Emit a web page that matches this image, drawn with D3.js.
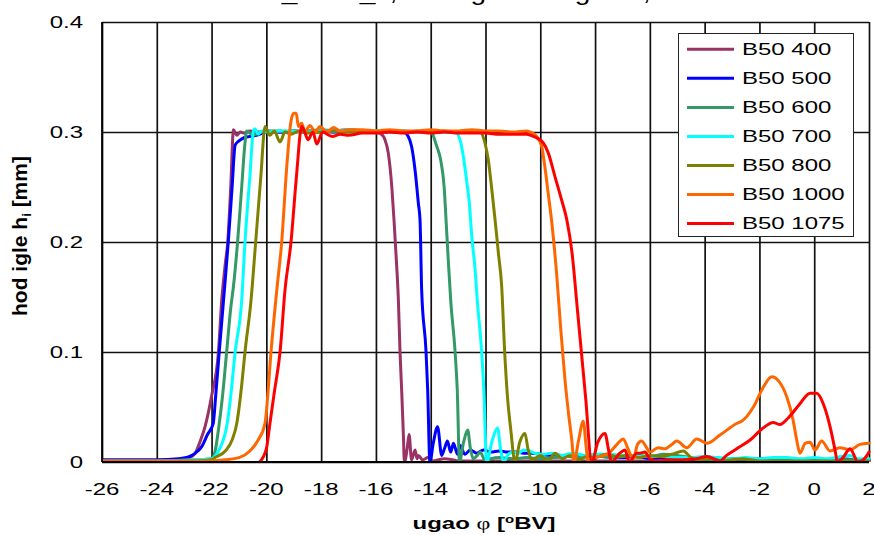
<!DOCTYPE html>
<html><head><meta charset="utf-8">
<script src="https://cdn.jsdelivr.net/npm/d3@7"></script>
<style>
body{margin:0;background:#fff;}
text{font-family:"Liberation Sans",Arial,sans-serif;fill:#000;}
</style>
</head><body>
<svg id="c" width="874" height="535"></svg>
<script>
// ---------- data ----------
const seriesNames = ["B50 400","B50 500","B50 600","B50 700","B50 800","B50 1000","B50 1075"];
const seriesColors = ["#993366","#0000FF","#339966","#00FFFF","#808000","#FF6600","#FF0000"];
const xTicks = [-26,-24,-22,-20,-18,-16,-14,-12,-10,-8,-6,-4,-2,0,2];
const xTickLabels = ["-26","-24","-22","-20","-18","-16","-14","-12","-10","-8","-6","-4","-2","0","2"];
const yTicks = [0,0.1,0.2,0.3,0.4];
const yTickLabels = ["0","0.1","0.2","0.3","0.4"];
const titleText = "B50_1075_x, Hod igle vs. ugao T, sve brzine";

const s400 = [[-26,0.001],[-25,0.001],[-24,0.001],[-23.2,0.002],[-22.8,0.004],[-22.6,0.008],[-22.4,0.02],[-22.24,0.032],[-22.0,0.06],[-21.75,0.1],[-21.63,0.147],[-21.5,0.18],[-21.41,0.2],[-21.3,0.25],[-21.2,0.302],[-21.08,0.297],[-20.95,0.300],[-20.8,0.299],[-20.6,0.301],[-20.3,0.300],[-20,0.301],[-19.5,0.300],[-19,0.301],[-18.5,0.300],[-18,0.301],[-17.5,0.301],[-17,0.302],[-16.5,0.301],[-16,0.300],[-15.85,0.299],[-15.67,0.293],[-15.55,0.281],[-15.42,0.25],[-15.34,0.22],[-15.27,0.19],[-15.18,0.147],[-15.12,0.1],[-15.06,0.065],[-15.0,0.026],[-14.96,0.0],[-14.86,0.012],[-14.79,0.025],[-14.7,0.002],[-14.57,0.011],[-14.5,0.003],[-14.45,0.006],[-14.3,0.002],[-14.1,0.004],[-13.9,0.001],[-13.5,0.003],[-13.2,0.002],[-13,0.001],[-12,0.001],[-10,0.001],[-8,0.001],[-6,0.001],[-4,0.001],[-2,0.001],[0,0.001],[2,0.001]];

const s500 = [[-26,0.002],[-24,0.002],[-23.2,0.003],[-22.8,0.005],[-22.5,0.01],[-22.36,0.014],[-22.15,0.025],[-21.94,0.035],[-21.85,0.06],[-21.72,0.1],[-21.54,0.154],[-21.39,0.2],[-21.25,0.25],[-21.14,0.288],[-21.0,0.292],[-20.8,0.295],[-20.6,0.296],[-20.36,0.297],[-20.0,0.300],[-19.5,0.300],[-19,0.301],[-18.5,0.300],[-18,0.301],[-17.5,0.300],[-17,0.301],[-16.5,0.300],[-16,0.300],[-15.5,0.300],[-15.0,0.300],[-14.82,0.296],[-14.7,0.287],[-14.57,0.265],[-14.45,0.235],[-14.39,0.22],[-14.33,0.156],[-14.17,0.1],[-14.11,0.065],[-14.03,0.0],[-13.9,0.018],[-13.75,0.032],[-13.6,0.006],[-13.5,0.012],[-13.39,0.019],[-13.27,0.009],[-13.17,0.017],[-13.02,0.007],[-12.93,0.015],[-12.75,0.007],[-12.56,0.011],[-12.32,0.008],[-12.07,0.011],[-11.8,0.009],[-11.5,0.010],[-11.2,0.009],[-10.9,0.009],[-10.6,0.008],[-10.3,0.008],[-10,0.007],[-9.6,0.006],[-9.2,0.006],[-8.8,0.005],[-8.4,0.006],[-8,0.005],[-7.5,0.005],[-7,0.004],[-6.5,0.005],[-6,0.003],[-5.5,0.004],[-5,0.003],[-4.5,0.002],[-4,0.003],[-3.5,0.001],[-3,0.003],[-2.5,0.002],[-2,0.003],[-1.5,0.002],[-1,0.003],[-0.5,0.002],[0,0.002],[0.5,0.002],[1,0.003],[1.5,0.002],[2,0.002]];

const s600 = [[-26,0.001],[-24,0.001],[-22.5,0.002],[-22.0,0.003],[-21.87,0.01],[-21.72,0.035],[-21.6,0.06],[-21.45,0.1],[-21.3,0.14],[-21.2,0.16],[-21.05,0.2],[-20.9,0.25],[-20.78,0.29],[-20.72,0.301],[-20.6,0.299],[-20.5,0.297],[-20.3,0.299],[-20,0.301],[-19.5,0.301],[-19,0.300],[-18.5,0.301],[-18,0.302],[-17.5,0.301],[-17,0.302],[-16.5,0.301],[-16,0.301],[-15.5,0.300],[-15,0.301],[-14.5,0.300],[-14.0,0.300],[-13.78,0.287],[-13.64,0.275],[-13.51,0.25],[-13.44,0.22],[-13.36,0.184],[-13.27,0.147],[-13.11,0.1],[-13.03,0.065],[-12.95,0.0],[-12.8,0.018],[-12.65,0.029],[-12.55,0.012],[-12.45,0.003],[-12.3,0.006],[-12.2,0.009],[-12.0,0.001],[-11.8,0.003],[-11.5,0.004],[-11,0.003],[-10.5,0.004],[-10,0.003],[-9.5,0.004],[-9,0.005],[-8.5,0.004],[-8,0.006],[-7.5,0.004],[-7,0.005],[-6.5,0.006],[-6,0.005],[-5.5,0.007],[-5,0.006],[-4.5,0.004],[-4,0.003],[-3.5,0.002],[-3,0.003],[-2,0.002],[-1,0.002],[0,0.002],[1,0.002],[2,0.002]];

const s700 = [[-26,0.001],[-24,0.001],[-22.5,0.002],[-22.0,0.003],[-21.75,0.01],[-21.43,0.035],[-21.3,0.06],[-21.14,0.1],[-20.9,0.147],[-20.78,0.2],[-20.6,0.26],[-20.48,0.3],[-20.42,0.303],[-20.3,0.298],[-20.18,0.301],[-20,0.300],[-19.5,0.301],[-19,0.301],[-18.5,0.300],[-18,0.301],[-17.5,0.301],[-17,0.302],[-16.5,0.301],[-16,0.301],[-15.5,0.300],[-15,0.301],[-14.5,0.300],[-14,0.301],[-13.5,0.300],[-13.11,0.300],[-12.93,0.293],[-12.81,0.278],[-12.69,0.256],[-12.59,0.235],[-12.5,0.205],[-12.38,0.175],[-12.3,0.147],[-12.14,0.1],[-12.06,0.065],[-11.96,0.0],[-11.75,0.02],[-11.56,0.031],[-11.45,0.012],[-11.33,0.0],[-11.2,0.006],[-11,0.009],[-10.8,0.008],[-10.6,0.011],[-10.4,0.010],[-10.2,0.008],[-9.9,0.007],[-9.6,0.008],[-9.2,0.006],[-8.8,0.008],[-8.4,0.006],[-8,0.007],[-7.5,0.007],[-7,0.006],[-6.5,0.006],[-6,0.005],[-5.5,0.005],[-5,0.004],[-4.5,0.004],[-4,0.005],[-3.5,0.004],[-3,0.003],[-2.5,0.004],[-2,0.003],[-1.5,0.004],[-1,0.004],[-0.5,0.003],[0,0.004],[0.5,0.003],[1,0.005],[1.3,0.006],[1.6,0.003],[2,0.003]];

const s800 = [[-26,0.001],[-24,0.001],[-22.5,0.001],[-22,0.002],[-21.87,0.004],[-21.5,0.01],[-21.25,0.02],[-21.08,0.035],[-20.9,0.07],[-20.78,0.1],[-20.56,0.147],[-20.39,0.2],[-20.2,0.26],[-20.05,0.305],[-19.87,0.297],[-19.71,0.301],[-19.5,0.291],[-19.32,0.300],[-19.1,0.298],[-18.8,0.301],[-18.5,0.299],[-18,0.300],[-17.5,0.301],[-17,0.300],[-16.5,0.301],[-16,0.300],[-15.5,0.301],[-15,0.300],[-14.5,0.301],[-14,0.300],[-13.5,0.301],[-13,0.300],[-12.5,0.300],[-12.2,0.300],[-12.02,0.29],[-11.9,0.275],[-11.78,0.25],[-11.65,0.22],[-11.53,0.19],[-11.41,0.16],[-11.3,0.1],[-11.2,0.06],[-11.08,0.03],[-10.92,0.0],[-10.75,0.018],[-10.56,0.026],[-10.45,0.012],[-10.31,0.002],[-10.0,0.006],[-9.72,0.001],[-9.46,0.008],[-9.2,0.003],[-8.9,0.006],[-8.6,0.002],[-8.3,0.005],[-8,0.004],[-7.6,0.007],[-7.2,0.005],[-6.8,0.006],[-6.4,0.004],[-6,0.006],[-5.6,0.005],[-5.2,0.007],[-4.78,0.010],[-4.5,0.004],[-4.2,0.002],[-3.8,0.003],[-3.4,0.001],[-3,0.002],[-2.6,0.003],[-2.3,0.002],[-2,0.001],[0,0.001],[2,0.001]];

const s1000 = [[-26,0.001],[-24,0.001],[-22,0.001],[-21.5,0.002],[-21,0.004],[-20.6,0.01],[-20.3,0.02],[-20.05,0.035],[-19.95,0.06],[-19.83,0.1],[-19.62,0.156],[-19.44,0.2],[-19.25,0.27],[-19.1,0.31],[-19.0,0.317],[-18.91,0.317],[-18.83,0.305],[-18.71,0.308],[-18.59,0.300],[-18.41,0.306],[-18.22,0.300],[-18.04,0.305],[-17.8,0.300],[-17.55,0.304],[-17.3,0.301],[-17.0,0.302],[-16.5,0.302],[-16,0.301],[-15.5,0.302],[-15,0.301],[-14.5,0.301],[-14,0.302],[-13.5,0.301],[-13,0.301],[-12.5,0.302],[-12,0.301],[-11.5,0.301],[-11,0.300],[-10.5,0.301],[-10.37,0.300],[-10.13,0.296],[-9.95,0.287],[-9.83,0.268],[-9.71,0.244],[-9.59,0.22],[-9.4,0.17],[-9.25,0.12],[-9.1,0.075],[-8.95,0.04],[-8.85,0.02],[-8.77,0.0],[-8.6,0.02],[-8.43,0.037],[-8.33,0.015],[-8.25,0.0],[-8.06,0.004],[-7.82,0.005],[-7.5,0.008],[-7.2,0.016],[-6.97,0.021],[-6.8,0.012],[-6.6,0.003],[-6.45,0.016],[-6.3,0.019],[-6.12,0.013],[-6.0,0.009],[-5.7,0.013],[-5.45,0.012],[-5.2,0.016],[-5.02,0.019],[-4.65,0.013],[-4.29,0.021],[-3.92,0.017],[-3.44,0.0245],[-2.83,0.035],[-2.65,0.037],[-2.22,0.05],[-1.86,0.068],[-1.55,0.0775],[-1.31,0.074],[-1.0,0.059],[-0.77,0.038],[-0.64,0.02],[-0.52,0.008],[-0.33,0.017],[-0.15,0.018],[0.03,0.011],[0.27,0.019],[0.58,0.010],[0.94,0.013],[1.31,0.011],[1.67,0.016],[2,0.017]];

const s1075 = [[-20.25,0.0],[-20.0,0.012],[-19.87,0.035],[-19.7,0.065],[-19.5,0.1],[-19.32,0.156],[-19.1,0.2],[-18.9,0.26],[-18.71,0.305],[-18.6,0.300],[-18.48,0.293],[-18.3,0.300],[-18.16,0.289],[-17.95,0.300],[-17.6,0.296],[-17.3,0.298],[-17.0,0.297],[-16.5,0.299],[-16,0.299],[-15.5,0.300],[-15,0.299],[-14.5,0.300],[-14,0.299],[-13.5,0.300],[-13,0.299],[-12.5,0.299],[-12,0.299],[-11.5,0.298],[-11,0.298],[-10.5,0.298],[-10.25,0.296],[-9.89,0.29],[-9.71,0.281],[-9.46,0.259],[-9.22,0.238],[-9.03,0.22],[-8.84,0.19],[-8.65,0.14],[-8.5,0.1],[-8.35,0.06],[-8.12,0.0],[-7.9,0.018],[-7.64,0.026],[-7.5,0.01],[-7.4,0.0],[-7.1,0.008],[-6.91,0.011],[-6.75,0.0],[-6.48,0.008],[-6.36,0.008],[-6.18,0.009],[-6.0,0.003],[-5.7,0.001],[-5.3,0.002],[-4.83,0.002],[-4.3,0.003],[-3.92,0.005],[-3.44,0.001],[-3.2,0.006],[-2.83,0.012],[-2.34,0.02],[-1.86,0.031],[-1.5,0.036],[-1.25,0.034],[-0.95,0.040],[-0.52,0.053],[-0.15,0.0625],[0.09,0.0625],[0.33,0.053],[0.58,0.032],[0.76,0.011],[0.85,0.0],[1.05,0.004],[1.31,0.012],[1.6,0.0],[1.9,0.005],[2.0,0.009]];

const seriesData = [s400,s500,s600,s700,s800,s1000,s1075];

// ---------- layout ----------
const plot = {left:102, right:869, top:22, bottom:462};
const SX = 1.5; // horizontal stretch of the original picture's text

const svg = d3.select("#c");
const x = d3.scaleLinear().domain([-26,2]).range([plot.left, plot.right]);
const y = d3.scaleLinear().domain([0,0.4]).range([plot.bottom, plot.top]);

// title (cut off at the top edge, only descenders visible)
svg.append("text")
  .attr("transform", `translate(232,0) scale(${SX*0.85},1)`)
  .attr("font-size", 22)
  .text(titleText);

// grid via axes
const gx = svg.append("g").attr("transform", `translate(0,${plot.bottom})`)
  .call(d3.axisBottom(x).tickValues(xTicks).tickSize(-(plot.bottom-plot.top)).tickFormat(""));
gx.select(".domain").remove();
gx.selectAll("line").attr("stroke","#111").attr("stroke-width",1.7);

const gy = svg.append("g").attr("transform", `translate(${plot.left},0)`)
  .call(d3.axisLeft(y).tickValues(yTicks).tickSize(-(plot.right-plot.left)).tickFormat(""));
gy.select(".domain").remove();
gy.selectAll("line").attr("stroke","#111").attr("stroke-width",1.4);

// clip
svg.append("clipPath").attr("id","clip").append("rect")
  .attr("x",plot.left).attr("y",plot.top-3)
  .attr("width",plot.right-plot.left+3).attr("height",plot.bottom-plot.top+3);

const line = d3.line().x(d=>x(d[0])).y(d=>y(d[1])).curve(d3.curveMonotoneX);
const lg = svg.append("g").attr("clip-path","url(#clip)");
seriesData.forEach((s,i)=>{
  lg.append("path").attr("d", line(s)).attr("fill","none")
    .attr("stroke", seriesColors[i]).attr("stroke-width",3)
    .attr("stroke-linejoin","round").attr("stroke-linecap","round");
});

// axis lines
svg.append("line").attr("x1",plot.left).attr("x2",plot.right)
  .attr("y1",plot.bottom).attr("y2",plot.bottom).attr("stroke","#000").attr("stroke-width",2);
svg.append("line").attr("x1",plot.left).attr("x2",plot.left)
  .attr("y1",plot.top).attr("y2",plot.bottom).attr("stroke","#000").attr("stroke-width",1.7);

// tick labels
svg.append("g").selectAll("text").data(xTicks).join("text")
  .attr("transform", d=>`translate(${x(d)},494.5) scale(${SX},1)`)
  .attr("text-anchor","middle").attr("font-size",16)
  .text((d,i)=>xTickLabels[i]);
svg.append("g").selectAll("text").data(yTicks).join("text")
  .attr("transform", d=>`translate(83,${y(d)+5.8}) scale(${SX},1)`)
  .attr("text-anchor","end").attr("font-size",16)
  .text((d,i)=>yTickLabels[i]);

// x axis title
const xt = svg.append("text")
  .attr("transform", `translate(484,528.5) scale(${SX},1)`)
  .attr("text-anchor","middle").attr("font-size",16).attr("font-weight","bold");
xt.append("tspan").text("ugao ");
xt.append("tspan").attr("font-family","'Liberation Serif',serif").attr("font-weight","normal").text("φ");
xt.append("tspan").text(" [");
xt.append("tspan").attr("font-size",10).attr("dy",-6).text("o");
xt.append("tspan").attr("dy",6).text("BV]");

// y axis title
const yt = svg.append("text")
  .attr("transform","translate(27,236) rotate(-90)")
  .attr("text-anchor","middle").attr("font-size",21).attr("font-weight","bold");
yt.append("tspan").text("hod igle h");
yt.append("tspan").attr("font-size",13).attr("dy",4).text("i");
yt.append("tspan").attr("dy",-4).text(" [mm]");

// legend
const leg = svg.append("g");
leg.append("rect").attr("x",678.5).attr("y",33.5).attr("width",175).attr("height",203)
  .attr("fill","#fff").attr("stroke","#222").attr("stroke-width",1);
seriesNames.forEach((n,i)=>{
  const ry = 49.3 + i*29.05;
  leg.append("line").attr("x1",687).attr("x2",734).attr("y1",ry).attr("y2",ry)
    .attr("stroke",seriesColors[i]).attr("stroke-width",3);
  leg.append("text").attr("transform",`translate(742,${ry+5.8}) scale(${SX},1)`)
    .attr("font-size",16).text(n);
});
</script>
</body></html>
